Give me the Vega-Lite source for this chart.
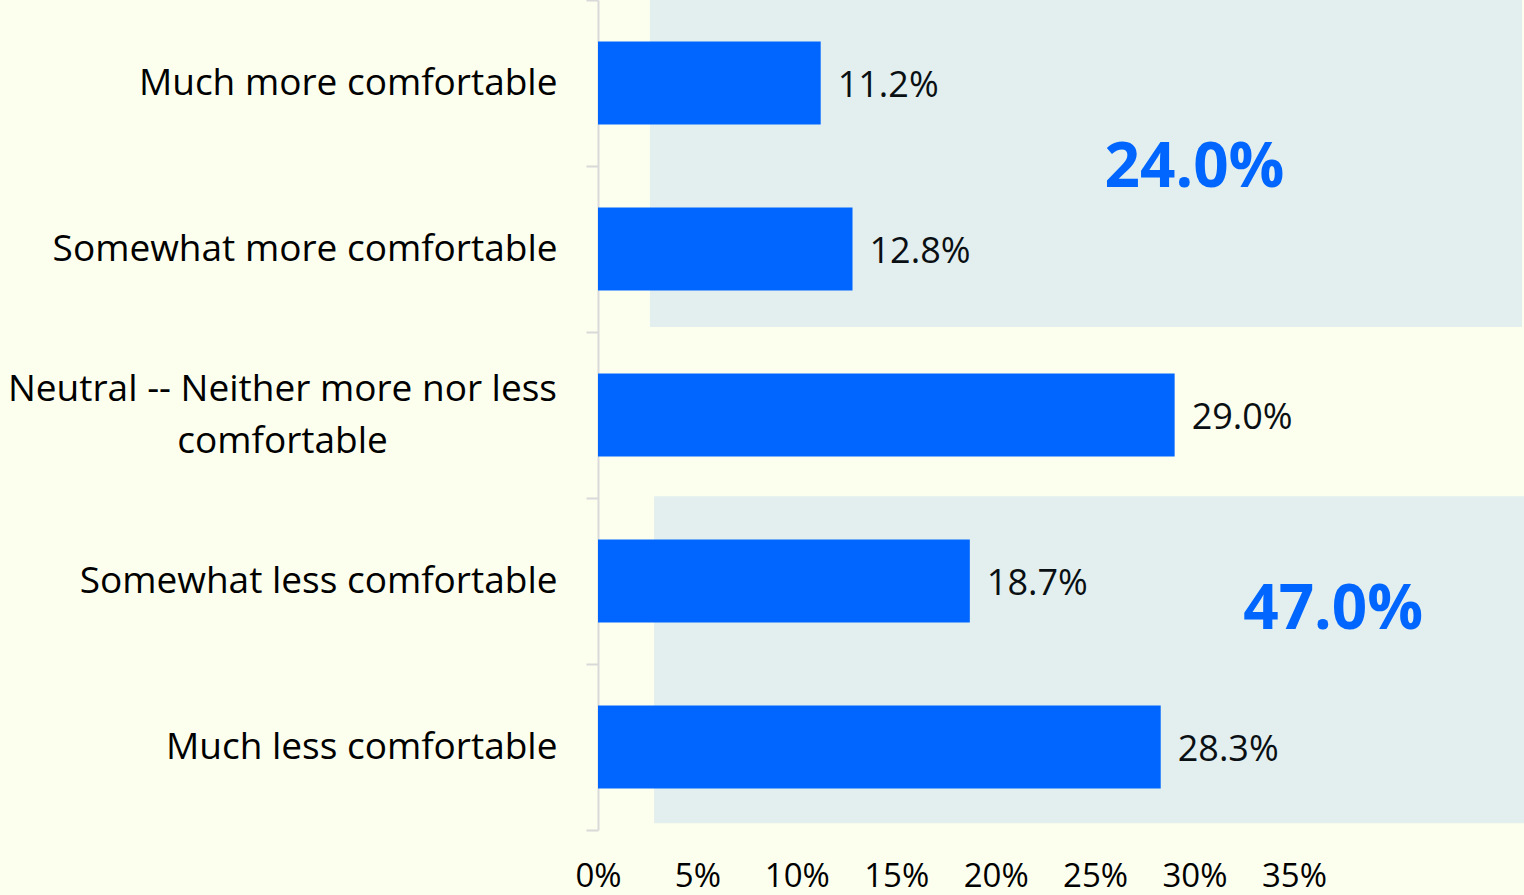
{
  "$schema": "https://vega.github.io/schema/vega-lite/v6.json",
  "width": 926,
  "height": 830,
  "autosize": {"type": "none"},
  "padding": {"left": 598, "top": 0, "right": 0, "bottom": 65},
  "background": "#FCFFEE",
  "config": {"view": {"stroke": null}, "font": "Open Sans"},
  "layer": [
    {
      "layer": [
        {
          "data": {"values": [
            {"x0": 0.0261, "x1": 0.4647, "y0": 0, "y1": 1.97},
            {"x0": 0.0282, "x1": 0.4657, "y0": 2.99, "y1": 4.96}
          ]},
          "mark": {"type": "rect", "color": "#E3EFEE"},
          "encoding": {
            "x": {"field": "x0", "type": "quantitative", "scale": {"domain": [0, 0.4657], "nice": false, "zero": true}},
            "x2": {"field": "x1"},
            "y": {"field": "y0", "type": "quantitative", "scale": {"domain": [0, 5], "reverse": true, "nice": false, "zero": false}, "axis": null},
            "y2": {"field": "y1"}
          }
        },
        {
          "data": {"values": [
            {"label": "24.0%", "x": 0.300, "y": 1.01},
            {"label": "47.0%", "x": 0.3697, "y": 3.675}
          ]},
          "mark": {"type": "text", "fontSize": 62, "fontWeight": "bold", "color": "#0066FF", "align": "center", "baseline": "middle", "font": "Open Sans"},
          "encoding": {
            "x": {"field": "x", "type": "quantitative", "scale": {"domain": [0, 0.4657], "nice": false, "zero": true}},
            "y": {"field": "y", "type": "quantitative", "scale": {"domain": [0, 5], "reverse": true, "nice": false, "zero": false}, "axis": null},
            "text": {"field": "label"}
          }
        }
      ]
    },
    {
      "data": {"values": [
        {"cat": "Much more comfortable", "pct": 0.112},
        {"cat": "Somewhat more comfortable", "pct": 0.128},
        {"cat": "Neutral -- Neither more nor less comfortable", "pct": 0.290},
        {"cat": "Somewhat less comfortable", "pct": 0.187},
        {"cat": "Much less comfortable", "pct": 0.283}
      ]},
      "encoding": {
        "y": {
          "field": "cat", "type": "nominal", "sort": null,
          "scale": {"paddingInner": 0, "paddingOuter": 0},
          "axis": {
            "title": null,
            "domainColor": "#D9D9D9", "domainWidth": 2,
            "tickColor": "#D9D9D9", "tickWidth": 2, "tickSize": 12, "tickBand": "extent",
            "labelFontSize": 37, "labelColor": "#000000", "labelFont": "Open Sans",
            "labelLimit": 0, "labelLineHeight": 52,
            "labelExpr": "datum.label == 'Neutral -- Neither more nor less comfortable' ? ['Neutral -- Neither more nor less', 'comfortable'] : datum.label",
            "labelAlign": {"condition": {"test": "datum.value == 'Neutral -- Neither more nor less comfortable'", "value": "center"}, "value": "right"},
            "labelPadding": {"condition": {"test": "datum.value == 'Neutral -- Neither more nor less comfortable'", "value": 304}, "value": 29},
            "labelOffset": {"condition": {"test": "datum.value == 'Neutral -- Neither more nor less comfortable'", "value": -26}, "value": 0}
          }
        },
        "x": {
          "field": "pct", "type": "quantitative",
          "scale": {"domain": [0, 0.4657], "nice": false, "zero": true},
          "axis": {
            "title": null,
            "values": [0, 0.05, 0.1, 0.15, 0.2, 0.25, 0.3, 0.35],
            "format": ".0%", "domain": false, "ticks": false, "grid": false,
            "labelFontSize": 33, "labelColor": "#000000", "labelPadding": 30, "labelFlush": false, "labelFont": "Open Sans"
          }
        }
      },
      "layer": [
        {"mark": {"type": "bar", "color": "#0066FF", "height": {"band": 0.5}}},
        {
          "mark": {"type": "text", "align": "left", "dx": 17, "dy": 3, "baseline": "middle", "fontSize": 36, "color": "#0A0F14", "font": "Open Sans"},
          "encoding": {"text": {"field": "pct", "format": ".1%"}}
        }
      ]
    }
  ],
  "resolve": {"scale": {"y": "independent"}}
}
